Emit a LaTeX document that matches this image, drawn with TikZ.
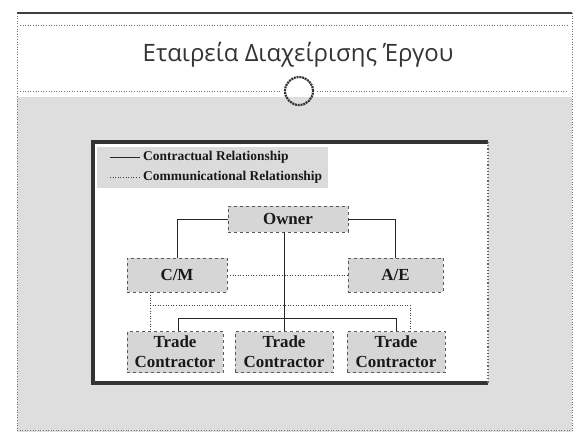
\documentclass[tikz,border=0pt]{standalone}
\usepackage{fontspec}
\setmainfont{Liberation Serif}
\newfontfamily\titlefont{Open Sans}
\begin{document}
\begin{tikzpicture}[x=1bp,y=-1bp,
  box/.style={draw=black!65, dashed, line width=0.6bp, fill=black!16, inner sep=0pt,
    font=\bfseries\fontsize{17}{20}\selectfont, align=center, text=black!90},
  contract/.style={draw=black!85, line width=0.8bp},
  comm/.style={draw=black!75, line width=0.9bp, dash pattern=on 1bp off 1.6bp},
  legtext/.style={anchor=west, inner sep=0pt, font=\bfseries\fontsize{13.5}{16}\selectfont, text=black!90},
  frameline/.style={draw=black!55, dotted, line width=0.6bp}
]
\useasboundingbox (0,0) rectangle (576,432);
% background of slide
\fill[black!13] (17,97) rectangle (572,432);
\draw[frameline] (17,13) -- (17,430);
\draw[frameline] (572,13) -- (572,430);
\draw[frameline] (17,430) -- (572,430);
\draw[draw=black!75, line width=1.5bp] (17,13) -- (572,13);
\draw[frameline] (20,25) -- (569,25);
% title
\node[font=\titlefont\fontsize{24}{28}\selectfont, text=black!80] (title) at (298,55) {Εταιρεία Διαχείρισης Έργου};
\node[circle, draw=black!80, line width=2.2bp, dash pattern=on 2bp off 0.8bp, minimum size=28bp, inner sep=0pt] (ring) at (299,91) {};
\draw[frameline] (20,91) -- ([xshift=-3bp]ring.west);
\draw[frameline] ([xshift=3bp]ring.east) -- (568,91);
% inner panel
\fill[white] (93,142) rectangle (488,383);
\draw[draw=black!80, line width=3.5bp] (488,142) -- (93,142) -- (93,383) -- (488,383);
\draw[draw=black!60, line width=1.2bp, dotted] (488,142) -- (488,383);
% legend
\fill[black!14] (97,147) rectangle (328,188);
\coordinate (l1a) at (110,157); \coordinate (l1b) at (140,157);
\coordinate (l2a) at (110,177); \coordinate (l2b) at (140,177);
\draw[contract] (l1a) -- (l1b);
\draw[comm] (l2a) -- (l2b);
\node[legtext] (leg1) at (143,157) {Contractual Relationship};
\node[legtext] (leg2) at (143,177) {Communicational Relationship};
% boxes
\node[box, minimum width=120bp, minimum height=26bp] (owner) at (288,219) {Owner};
\node[box, minimum width=100bp, minimum height=34bp] (cm) at (177,275) {C/M};
\node[box, minimum width=95bp, minimum height=34bp] (ae) at (395.5,275) {A/E};
\node[box, minimum width=96bp, minimum height=41bp] (t1) at (175,352) {Trade\\Contractor};
\node[box, minimum width=98bp, minimum height=41bp] (t2) at (284,352) {Trade\\Contractor};
\node[box, minimum width=98bp, minimum height=41bp] (t3) at (396,352) {Trade\\Contractor};
% contractual connectors
\draw[contract] (owner.west) -| (cm.north);
\draw[contract] (owner.east) -| (ae.north);
\draw[contract] (t2.north |- owner.south) -- (t2.north);
\coordinate (bus) at (0,318);
\draw[contract] ([xshift=3bp]t1.north) -- ([xshift=3bp]t1.north |- bus) -- (t3.north |- bus) -- (t3.north);
% communicational connectors
\coordinate (cl) at (150,305);
\coordinate (cr) at (410,305);
\draw[comm] (cm.east) -- (ae.west);
\draw[comm] (cm.south -| cl) -- (t1.north -| cl);
\draw[comm] (cl) -- (cr) -- (t3.north -| cr);
\end{tikzpicture}
\end{document}
